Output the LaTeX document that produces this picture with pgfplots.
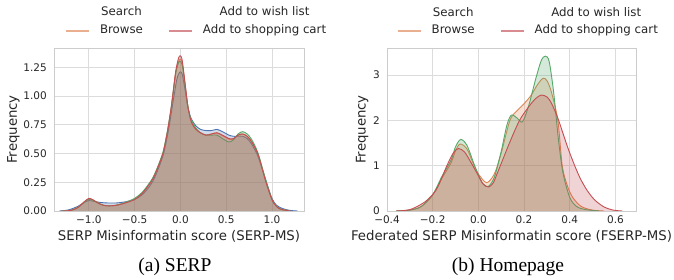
\documentclass[border=0pt]{standalone}
\usepackage{fontspec}
\setmainfont{DejaVu Sans}
\newfontfamily\capfont{Liberation Serif}
\usepackage{pgfplots}
\pgfplotsset{compat=1.18}
\definecolor{sblue}{HTML}{4C72B0}
\definecolor{sorange}{HTML}{DD8452}
\definecolor{sgreen}{HTML}{55A868}
\definecolor{sred}{HTML}{C44E52}
\definecolor{txt}{HTML}{262626}
\definecolor{gridc}{HTML}{DCDCDC}
\definecolor{framec}{HTML}{CCCCCC}

\pgfplotsset{
  kdeax/.style={
    scale only axis, height=163pt,
    axis line style={framec, line width=0.9pt},
    grid=major, major grid style={gridc, line width=0.9pt},
    major tick length=0pt,
    tick label style={font=\fontsize{10.5}{12}\selectfont, text=txt},
    xticklabel style={anchor=base, yshift=-13pt},
    yticklabel style={anchor=east, inner sep=0pt, xshift=-7pt},
    label style={font=\fontsize{13.3}{15}\selectfont, text=txt},
    xlabel style={at={(axis description cs:0.5,-0.184)}, anchor=base},
    ymin=0, clip=true,
    legend style={draw=none, fill=none, inner sep=0pt, outer sep=0pt,
      anchor=north west, font=\fontsize{11.8}{13}\selectfont, text=txt,
      nodes={inner sep=0pt, text height=9pt, text depth=3pt},
      row sep=5.5pt,
      /tikz/every odd column/.append style={column sep=10pt},
      /tikz/every even column/.append style={column sep=25pt}},
    legend columns=2,
    legend image code/.code={\draw[#1, line width=2pt] (0pt,0pt) -- (23pt,0pt);},
  },
  fl/.style={draw=none, fill=#1, fill opacity=0.25, forget plot},
  ln/.style={draw=#1, line width=0.9pt, forget plot},
}

\begin{document}
\begin{tikzpicture}[x=1pt,y=1pt]
\path[use as bounding box] (0,0) rectangle (674,280);

% ---------------- (a) SERP ----------------
\begin{axis}[kdeax, at={(54pt,69pt)}, anchor=south west, width=250pt,
  xmin=-1.38, xmax=1.35, ymax=1.418,
  xtick={-1,-0.5,0,0.5,1}, xticklabels={−1.0,−0.5,0.0,0.5,1.0},
  ytick={0,0.25,0.5,0.75,1,1.25}, yticklabels={0.00,0.25,0.50,0.75,1.00,1.25},
  xlabel={SERP Misinformatin score (SERP-MS)}, ylabel={Frequency},
  ylabel style={at={(axis description cs:-0.162,0.5)}, anchor=center},
  legend style={at={(axis description cs:0.044,1.2515)}},
]
\pgfplotstableread{
x y
-1.32 0.00
-1.22 0.01
-1.12 0.04
-1.05 0.075
-1.00 0.09
-0.95 0.085
-0.88 0.075
-0.80 0.07
-0.70 0.07
-0.60 0.08
-0.50 0.10
-0.42 0.14
-0.35 0.20
-0.30 0.26
-0.25 0.35
-0.19 0.48
-0.15 0.62
-0.12 0.75
-0.09 0.90
-0.07 1.00
-0.04 1.14
-0.02 1.19
0.00 1.21
0.02 1.19
0.05 1.06
0.08 0.91
0.11 0.82
0.135 0.78
0.17 0.74
0.22 0.71
0.28 0.70
0.34 0.70
0.40 0.71
0.46 0.69
0.53 0.66
0.58 0.65
0.63 0.65
0.68 0.65
0.73 0.63
0.78 0.58
0.845 0.48
0.90 0.35
0.94 0.25
1.00 0.11
1.05 0.05
1.12 0.02
1.20 0.005
1.28 0.00
}\serpsearch
\pgfplotstableread{
x y
-1.30 0.00
-1.20 0.005
-1.12 0.03
-1.05 0.08
-1.00 0.105
-0.96 0.10
-0.90 0.07
-0.84 0.05
-0.78 0.045
-0.70 0.05
-0.60 0.072
-0.50 0.105
-0.42 0.155
-0.35 0.225
-0.30 0.285
-0.25 0.375
-0.19 0.505
-0.15 0.655
-0.128 0.755
-0.10 0.90
-0.084 1.00
-0.05 1.21
-0.02 1.30
0.00 1.32
0.02 1.29
0.05 1.11
0.08 0.92
0.11 0.80
0.135 0.75
0.17 0.71
0.22 0.68
0.28 0.66
0.34 0.67
0.40 0.68
0.46 0.655
0.53 0.625
0.58 0.625
0.63 0.66
0.68 0.67
0.73 0.65
0.78 0.60
0.845 0.50
0.90 0.35
0.935 0.25
1.00 0.10
1.05 0.04
1.10 0.015
1.20 0.00
}\serpbrowse
\pgfplotstableread{
x y
-1.30 0.00
-1.20 0.005
-1.12 0.03
-1.05 0.075
-1.00 0.10
-0.96 0.095
-0.90 0.07
-0.84 0.05
-0.78 0.045
-0.70 0.05
-0.60 0.075
-0.50 0.11
-0.42 0.16
-0.35 0.23
-0.30 0.29
-0.25 0.38
-0.19 0.51
-0.15 0.66
-0.128 0.76
-0.10 0.90
-0.084 1.00
-0.05 1.20
-0.02 1.29
0.00 1.30
0.02 1.27
0.05 1.10
0.08 0.92
0.11 0.81
0.135 0.77
0.17 0.72
0.22 0.68
0.28 0.66
0.34 0.66
0.40 0.66
0.46 0.63
0.53 0.60
0.58 0.62
0.63 0.67
0.68 0.69
0.73 0.67
0.78 0.62
0.845 0.51
0.90 0.36
0.94 0.25
1.00 0.10
1.05 0.04
1.10 0.015
1.20 0.00
}\serpwish
\pgfplotstableread{
x y
-1.30 0.00
-1.20 0.005
-1.12 0.03
-1.05 0.08
-1.00 0.11
-0.96 0.10
-0.90 0.07
-0.84 0.05
-0.78 0.045
-0.70 0.05
-0.60 0.07
-0.50 0.10
-0.42 0.15
-0.35 0.22
-0.30 0.28
-0.25 0.37
-0.19 0.50
-0.15 0.65
-0.128 0.75
-0.10 0.90
-0.084 1.00
-0.05 1.22
-0.02 1.33
0.00 1.35
0.02 1.31
0.05 1.12
0.08 0.92
0.11 0.80
0.135 0.75
0.17 0.71
0.22 0.68
0.28 0.66
0.34 0.67
0.40 0.68
0.46 0.66
0.53 0.63
0.58 0.63
0.63 0.66
0.68 0.67
0.73 0.65
0.78 0.60
0.845 0.50
0.90 0.35
0.935 0.25
1.00 0.10
1.05 0.04
1.10 0.015
1.20 0.00
}\serpcart
\addplot[fl=sblue, smooth] table {\serpsearch} \closedcycle;
\addplot[ln=sblue, smooth] table {\serpsearch};
\addplot[fl=sorange, smooth] table {\serpbrowse} \closedcycle;
\addplot[ln=sorange, smooth] table {\serpbrowse};
\addplot[fl=sgreen, smooth] table {\serpwish} \closedcycle;
\addplot[ln=sgreen, smooth] table {\serpwish};
\addplot[fl=sred, smooth] table {\serpcart} \closedcycle;
\addplot[ln=sred, smooth] table {\serpcart};
\addlegendimage{opacity=0}
\addlegendentry{Search}
\addlegendimage{opacity=0}
\addlegendentry{Add to wish list}
\addlegendimage{sorange!65!white}
\addlegendentry{Browse}
\addlegendimage{sred!65!white}
\addlegendentry{Add to shopping cart}
\end{axis}

% ---------------- (b) Homepage ----------------
\begin{axis}[kdeax, at={(387pt,69pt)}, anchor=south west, width=249pt,
  xmin=-0.40, xmax=0.69, ymax=3.6,
  xtick={-0.4,-0.2,0,0.2,0.4,0.6}, xticklabels={−0.4,−0.2,0.0,0.2,0.4,0.6},
  ytick={0,1,2,3}, yticklabels={0,1,2,3},
  xlabel={Federated SERP Misinformatin score (FSERP-MS)}, ylabel={Frequency},
  ylabel style={at={(axis description cs:-0.100,0.5)}, anchor=center},
  legend style={at={(axis description cs:0.039,1.2515)}},
]
\pgfplotstableread{
x y
-0.36 0.00
-0.30 0.02
-0.25 0.10
-0.20 0.35
-0.16 0.72
-0.12 1.06
-0.10 1.33
-0.08 1.48
-0.05 1.37
-0.02 1.02
0.00 0.82
0.036 0.625
0.07 0.82
0.10 1.28
0.138 2.00
0.17 2.22
0.20 2.37
0.23 2.55
0.26 2.80
0.283 2.93
0.30 2.88
0.32 2.62
0.348 2.00
0.367 1.00
0.39 0.55
0.413 0.30
0.45 0.10
0.50 0.02
0.55 0.00
}\hpbrowse
\pgfplotstableread{
x y
-0.36 0.00
-0.30 0.02
-0.25 0.10
-0.20 0.36
-0.16 0.76
-0.12 1.12
-0.10 1.42
-0.077 1.58
-0.05 1.45
-0.02 1.05
0.00 0.80
0.02 0.60
0.043 0.54
0.07 0.75
0.10 1.32
0.125 1.90
0.145 2.12
0.17 2.05
0.193 1.97
0.22 2.32
0.25 2.90
0.275 3.32
0.293 3.42
0.31 3.30
0.33 2.60
0.35 1.60
0.37 0.85
0.40 0.30
0.43 0.10
0.47 0.03
0.53 0.00
}\hpwish
\pgfplotstableread{
x y
-0.36 0.00
-0.30 0.03
-0.25 0.15
-0.22 0.26
-0.181 0.50
-0.138 1.00
-0.11 1.28
-0.087 1.38
-0.06 1.30
-0.03 1.05
0.00 0.78
0.02 0.60
0.045 0.53
0.065 0.62
0.08 0.80
0.10 1.05
0.14 1.55
0.18 2.00
0.22 2.30
0.25 2.48
0.275 2.56
0.30 2.52
0.32 2.38
0.348 2.05
0.37 1.72
0.39 1.42
0.41 1.15
0.43 0.90
0.45 0.68
0.478 0.44
0.51 0.24
0.55 0.09
0.59 0.02
0.63 0.00
}\hpcart
\addplot[fl=sorange, smooth] table {\hpbrowse} \closedcycle;
\addplot[ln=sorange, smooth] table {\hpbrowse};
\addplot[fl=sgreen, smooth] table {\hpwish} \closedcycle;
\addplot[ln=sgreen, smooth] table {\hpwish};
\addplot[fl=sred, smooth] table {\hpcart} \closedcycle;
\addplot[ln=sred, smooth] table {\hpcart};
\addlegendimage{opacity=0}
\addlegendentry{Search}
\addlegendimage{opacity=0}
\addlegendentry{Add to wish list}
\addlegendimage{sorange!65!white}
\addlegendentry{Browse}
\addlegendimage{sred!65!white}
\addlegendentry{Add to shopping cart}
\end{axis}

\node[anchor=base, font=\capfont\fontsize{19.5}{22}\selectfont, inner sep=0pt] at (175,8) {(a) SERP};
\node[anchor=base, font=\capfont\fontsize{19.5}{22}\selectfont, inner sep=0pt] at (508,8) {(b) Homepage};
\end{tikzpicture}
\end{document}
